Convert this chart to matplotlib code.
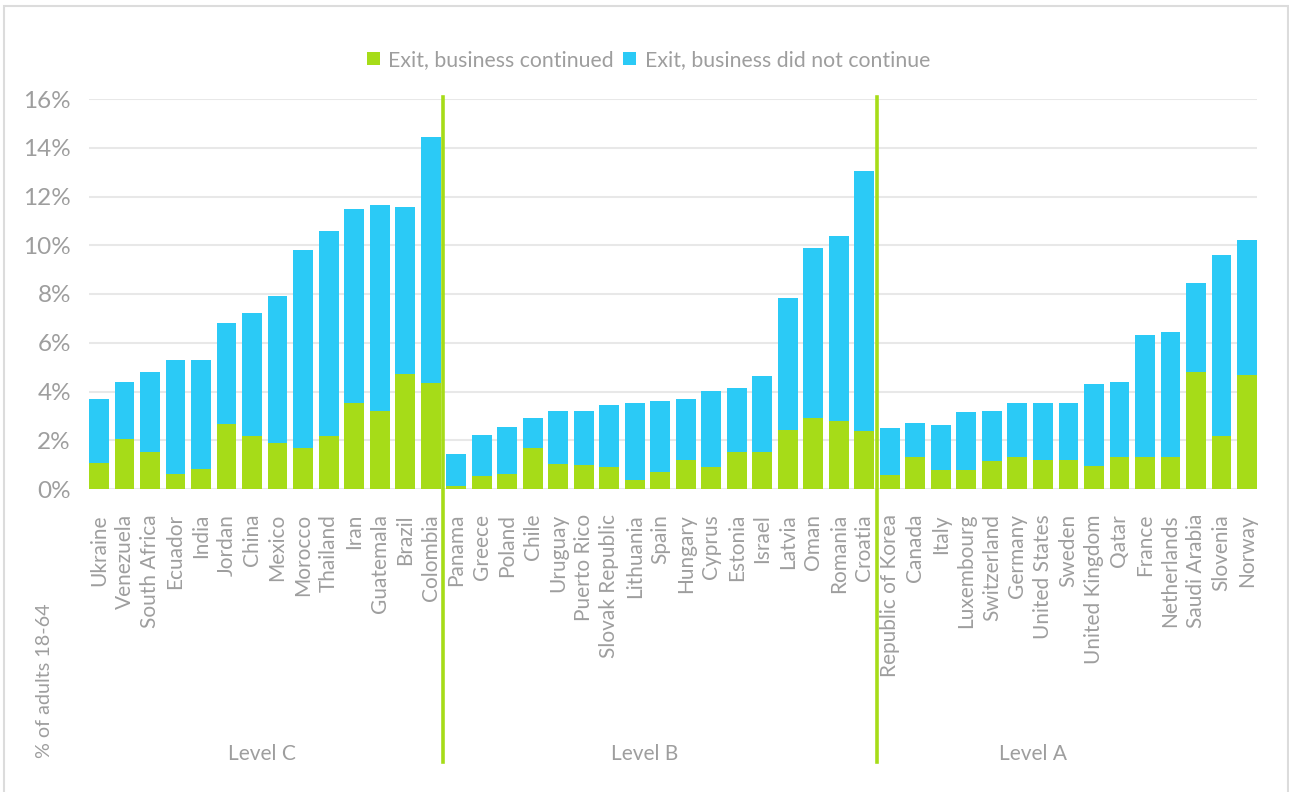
import matplotlib
matplotlib.use("Agg")
import matplotlib.pyplot as plt
from matplotlib.patches import Rectangle
from matplotlib.lines import Line2D
from matplotlib.transforms import blended_transform_factory
import numpy as np

plt.rcParams['font.family'] = ['Lato', 'DejaVu Sans']

countries = [
    "Ukraine", "Venezuela", "South Africa", "Ecuador", "India", "Jordan", "China",
    "Mexico", "Morocco", "Thailand", "Iran", "Guatemala", "Brazil", "Colombia",
    "Panama", "Greece", "Poland", "Chile", "Uruguay", "Puerto Rico",
    "Slovak Republic", "Lithuania", "Spain", "Hungary", "Cyprus", "Estonia",
    "Israel", "Latvia", "Oman", "Romania", "Croatia",
    "Republic of Korea", "Canada", "Italy", "Luxembourg", "Switzerland",
    "Germany", "United States", "Sweden", "United Kingdom", "Qatar", "France",
    "Netherlands", "Saudi Arabia", "Slovenia", "Norway",
]

# Total exits (% of adults 18-64)
total_exit = [
    3.68, 4.38, 4.79, 5.29, 5.29, 6.81, 7.22, 7.92, 9.81, 10.59, 11.49, 11.66, 11.58, 14.45,
    1.42, 2.21, 2.53, 2.90, 3.19, 3.19, 3.44, 3.52, 3.60, 3.68, 4.01, 4.14, 4.63,
    7.84, 9.89, 10.38, 13.05,
    2.49, 2.70, 2.62, 3.15, 3.19, 3.52, 3.52, 3.52, 4.30, 4.38, 6.32, 6.44, 8.45, 9.60, 10.22,
]

# Exits where the business continued
continued = [
    1.05, 2.04, 1.52, 0.60, 0.81, 2.67, 2.18, 1.88, 1.68, 2.18, 3.52, 3.19, 4.73, 4.34,
    0.12, 0.53, 0.62, 1.68, 1.03, 0.97, 0.89, 0.37, 0.70, 1.19, 0.89, 1.52, 1.52,
    2.42, 2.92, 2.78, 2.37,
    0.56, 1.30, 0.78, 0.78, 1.14, 1.30, 1.19, 1.19, 0.95, 1.30, 1.30, 1.30, 4.81, 2.18, 4.67,
]

did_not_continue = [t - c for t, c in zip(total_exit, continued)]

group_names = ["Level C", "Level B", "Level A"]
group_sizes = [14, 17, 15]

yticks = [0, 2, 4, 6, 8, 10, 12, 14, 16]
ytick_labels = [f"{v}%" for v in yticks]

GREEN = "#a6dc18"
BLUE = "#2bcaf6"
GRAY_TXT = "#9e9e9e"
GRID = "#e8e8e8"

W, H = 1289, 792
fig = plt.figure(figsize=(W / 100, H / 100), dpi=100)
fig.patch.set_facecolor("white")

# outer frame
fig.patches.append(Rectangle((4 / W, -0.01), (1288 - 4) / W, 1 - 6 / H + 0.01,
                             transform=fig.transFigure, fill=False,
                             edgecolor="#dcdcdc", linewidth=1.5))

ax = fig.add_axes([89 / W, 1 - 489 / H, (1257 - 89) / W, (489 - 99) / H])

x = np.arange(len(countries))
bw = 0.78
ax.bar(x, continued, width=bw, color=GREEN, label="Exit, business continued", zorder=3)
ax.bar(x, did_not_continue, width=bw, bottom=continued, color=BLUE,
       label="Exit, business did not continue", zorder=3)

ax.set_xlim(-bw / 2, len(countries) - 1 + bw / 2)
ax.set_ylim(0, 16)
ax.set_yticks(yticks)
ax.set_yticklabels(ytick_labels)
ax.yaxis.grid(True, color=GRID, linewidth=1.5, zorder=0)
ax.set_axisbelow(True)
for s in ax.spines.values():
    s.set_visible(False)

ax.set_xticks(x)
ax.set_xticklabels(countries, rotation=90, fontsize=15, color=GRAY_TXT)
ax.tick_params(axis="x", length=0, pad=18)
ax.tick_params(axis="y", length=0, pad=13, labelsize=17.5, labelcolor=GRAY_TXT)

# group separators and group labels
trans = blended_transform_factory(ax.transData, fig.transFigure)
edges = np.cumsum(group_sizes)[:-1] - 0.5
for e in edges:
    fig.lines.append(Line2D([e, e], [1 - 97 / H, 1 - 762 / H], transform=trans,
                            color=GREEN, linewidth=2.6))

level_x = [6.4, 21.4, 36.6]
for name, lx in zip(group_names, level_x):
    fig.text(lx, 1 - 754 / H, name, transform=trans, ha="center", va="center",
             fontsize=15, color=GRAY_TXT)

fig.text(45 / W, 1 - 758 / H, "% of adults 18-64", rotation=90, ha="center",
         va="bottom", fontsize=14.2, color=GRAY_TXT)

leg = fig.legend(loc="center", bbox_to_anchor=(0.503, 1 - 60 / H), ncol=2,
                 frameon=False, fontsize=15.3, handlelength=0.6, handleheight=0.6,
                 handletextpad=0.4, columnspacing=0.45)
for t in leg.get_texts():
    t.set_color(GRAY_TXT)

fig.savefig("out.png", dpi=100, facecolor="white")
